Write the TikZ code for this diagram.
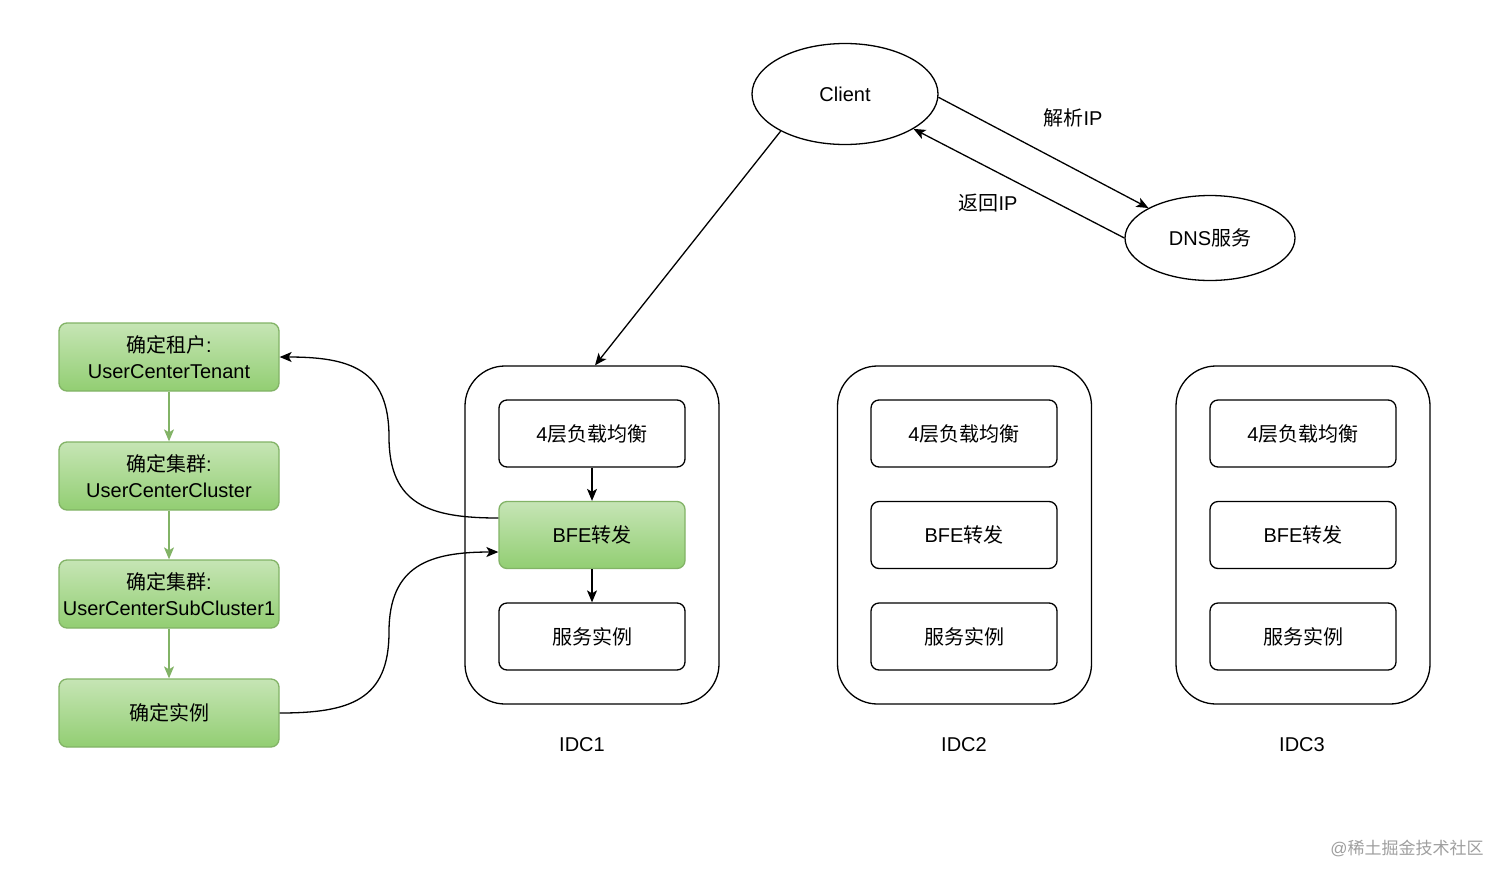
\documentclass[tikz,border=0pt]{standalone}
\usepackage{fontspec}
\setmainfont{Liberation Sans}
\newfontfamily\cjk{Noto Sans CJK SC}
\usetikzlibrary{arrows.meta,shapes.geometric}
\definecolor{gstroke}{HTML}{82B366}
\definecolor{gtop}{HTML}{C6E5B5}
\definecolor{gbot}{HTML}{92CE72}
\begin{document}
\begin{tikzpicture}[x=1pt,y=-1pt,
  font=\fontsize{20}{26}\selectfont,
  line width=1.3pt,
  arr/.style={-{Stealth[length=12pt,width=10pt,inset=3pt]}},
  garr/.style={draw=gstroke,-{Stealth[length=12pt,width=10pt,inset=3pt]}},
  box/.style={draw, rounded corners=8pt, minimum width=186pt, minimum height=67pt, inner sep=0pt},
  gbox/.style={draw=gstroke, rounded corners=8pt, top color=gtop, bottom color=gbot, inner sep=0pt, align=center},
  idc/.style={draw, rounded corners=40pt, minimum width=254pt, minimum height=338pt, inner sep=0pt},
  oval/.style={draw, ellipse, inner sep=0pt},
  lbl/.style={inner sep=0pt}
]
\useasboundingbox (0,0) rectangle (1512,884);
\fill[white] (0,0) rectangle (1512,884);

% top ellipses
\node[oval, minimum width=186pt, minimum height=101pt] (client) at (845,94) {Client};
\node[oval, minimum width=170pt, minimum height=85pt] (dns) at (1210,238) {DNS{\cjk 服务}};
\draw[arr] (client.-2) -- (dns.154);
\draw[arr] (dns.180) -- (client.-27);
\node[lbl] (l1) at (1073,118) {{\cjk 解析}IP};
\node[lbl] (l2) at (988,203) {{\cjk 返回}IP};

% IDC containers
\node[idc] (idc1) at (592,535) {};
\node[idc] (idc2) at (964.5,535) {};
\node[idc] (idc3) at (1303,535) {};
\node[lbl] (t1) at (582,745) {IDC1};
\node[lbl] (t2) at (964,745) {IDC2};
\node[lbl] (t3) at (1302,745) {IDC3};

% IDC1 content
\node[box] (lb1) at (592,433.5) {4{\cjk 层负载均衡}};
\node[gbox, minimum width=186pt, minimum height=67pt] (bfe1) at (592,535) {BFE{\cjk 转发}};
\node[box] (svc1) at (592,636.5) {{\cjk 服务实例}};
\draw[arr] (lb1.south) -- (bfe1.north);
\draw[arr] (bfe1.south) -- (svc1.north);

% IDC2 content
\node[box] (lb2) at (964,433.5) {4{\cjk 层负载均衡}};
\node[box] (bfe2) at (964,535) {BFE{\cjk 转发}};
\node[box] (svc2) at (964,636.5) {{\cjk 服务实例}};

% IDC3 content
\node[box] (lb3) at (1303,433.5) {4{\cjk 层负载均衡}};
\node[box] (bfe3) at (1303,535) {BFE{\cjk 转发}};
\node[box] (svc3) at (1303,636.5) {{\cjk 服务实例}};

% client to IDC1
\draw[arr] (client.-150) -- ([xshift=3pt]idc1.north);

% green chain
\node[gbox, minimum width=220pt, minimum height=68pt] (g1) at (169,357) {{\cjk 确定租户}:\\UserCenterTenant};
\node[gbox, minimum width=220pt, minimum height=68pt] (g2) at (169,476) {{\cjk 确定集群}:\\UserCenterCluster};
\node[gbox, minimum width=220pt, minimum height=68pt] (g3) at (169,594) {{\cjk 确定集群}:\\UserCenterSubCluster1};
\node[gbox, minimum width=220pt, minimum height=68pt] (g4) at (169,713) {{\cjk 确定实例}};
\draw[garr] (g1.south) -- (g2.north);
\draw[garr] (g2.south) -- (g3.north);
\draw[garr] (g3.south) -- (g4.north);

% curves
\draw[arr] ([yshift=17pt]bfe1.west) .. controls (430,518) and (389,505) .. (389,437)
  .. controls (389,369) and (350,357) .. (g1.east);
\draw[arr] (g4.east) .. controls (350,713) and (389,700) .. (389,632)
  .. controls (389,565) and (430,552) .. ([yshift=-17pt]bfe1.west);

% watermark
\node[lbl, text=gray!75, font=\fontsize{17}{20}\selectfont] (wm) at (1407,848) {@{\cjk 稀土掘金技术社区}};
\end{tikzpicture}
\end{document}
